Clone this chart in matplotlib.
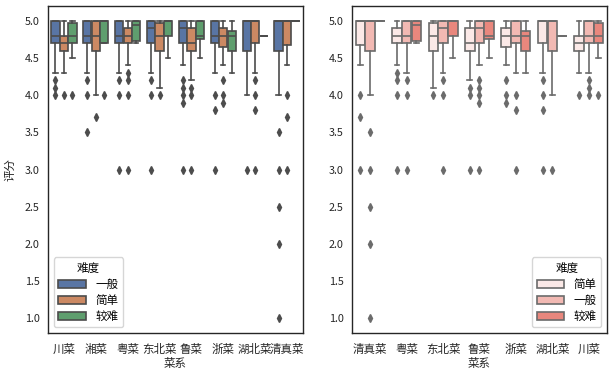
import numpy as np
import matplotlib
matplotlib.use("Agg")
import matplotlib.pyplot as plt
from matplotlib.patches import Patch

# ── data: box statistics per cuisine (rows) and difficulty (cols) ────────────
CATEGORIES = ["川菜", "湘菜", "粤菜", "东北菜", "鲁菜", "浙菜", "湖北菜", "清真菜"]
LEVELS     = ["一般", "简单", "较难"]

WHIS_LO = [[4.3, 4.3, 4.5], [4.3, 4.0, 4.7], [4.3, 4.4, 4.7], [4.3, 4.1, 4.5],
           [4.4, 4.2, 4.5], [4.3, 4.4, 4.3], [4.0, 4.3, 4.8], [4.0, 4.4, 5.0]]
Q1      = [[4.7, 4.6, 4.7], [4.7, 4.6, 4.7], [4.7, 4.7, 4.725], [4.7, 4.6, 4.8],
           [4.7, 4.6, 4.75], [4.7, 4.65, 4.6], [4.6, 4.7, 4.8], [4.6, 4.67, 5.0]]
MED     = [[4.8, 4.7, 4.8], [4.8, 4.8, 5.0], [4.8, 4.8, 4.95], [4.9, 4.8, 5.0],
           [4.9, 4.7, 4.8], [4.8, 4.8, 4.8], [5.0, 5.0, 4.8], [5.0, 5.0, 5.0]]
Q3      = [[5.0, 4.8, 4.97], [5.0, 5.0, 5.0], [5.0, 4.9, 5.0], [5.0, 4.97, 5.0],
           [5.0, 4.9, 5.0], [5.0, 4.9, 4.87], [5.0, 5.0, 4.8], [5.0, 5.0, 5.0]]
WHIS_HI = [[5.0, 5.0, 5.0], [5.0, 5.0, 5.0], [5.0, 5.0, 5.0], [5.0, 5.0, 5.0],
           [5.0, 5.0, 5.0], [5.0, 5.0, 5.0], [5.0, 5.0, 4.8], [5.0, 5.0, 5.0]]
FLIERS  = [[[4.2, 4.1, 4.0], [4.0], [4.0]],
           [[4.2, 4.0, 3.5], [3.7], [4.0]],
           [[4.2, 4.0, 3.0], [4.3, 4.2, 4.0, 3.0], []],
           [[4.2, 4.0, 3.0], [4.0], []],
           [[4.2, 4.1, 4.0, 3.9, 3.0], [4.1, 4.0, 3.0], []],
           [[4.0, 3.8, 3.0], [4.2, 4.0, 3.9], []],
           [[3.0], [4.2, 4.0, 3.8, 3.0], []],
           [[3.5, 3.0, 2.5, 2.0, 1.0], [4.0, 3.7, 3.0], []]]

RIGHT_ORDER = ["清真菜", "粤菜", "东北菜", "鲁菜", "浙菜", "湖北菜", "川菜"]
RIGHT_HUES  = ["简单", "一般", "较难"]

LEFT_COLORS  = {"一般": "#5975A4", "简单": "#CC8963", "较难": "#5F9E6E"}
RIGHT_COLORS = {"简单": "#FBE9E7", "一般": "#F2B9B3", "较难": "#E9877D"}

plt.rcParams["font.family"] = ["Noto Sans CJK SC", "DejaVu Sans"]
plt.rcParams["axes.unicode_minus"] = False
_FS = 8.3
_LW = 1.2
_TXT = "#262626"


def draw_boxes(ax, cats, hues, colors, edge):
    n = len(hues)
    w = 0.8 / n
    for ci, cat in enumerate(cats):
        i = CATEGORIES.index(cat)
        for hi, hue in enumerate(hues):
            j = LEVELS.index(hue)
            st = dict(whislo=WHIS_LO[i][j], q1=Q1[i][j], med=MED[i][j],
                      q3=Q3[i][j], whishi=WHIS_HI[i][j],
                      fliers=np.array(FLIERS[i][j]))
            pos = ci + (hi - (n - 1) / 2) * w
            ax.bxp([st], positions=[pos], widths=w * 0.98, patch_artist=True,
                   manage_ticks=False,
                   boxprops=dict(facecolor=colors[hue], edgecolor=edge, linewidth=_LW),
                   medianprops=dict(color=edge, linewidth=_LW),
                   whiskerprops=dict(color=edge, linewidth=_LW),
                   capprops=dict(color=edge, linewidth=_LW),
                   flierprops=dict(marker="d", markerfacecolor=edge,
                                   markeredgecolor=edge, markersize=4))
    ax.set_xticks(range(len(cats)))
    ax.set_xticklabels(cats, fontsize=_FS, color=_TXT)
    ax.set_xlim(-0.5, len(cats) - 0.5)
    ax.set_ylim(0.8, 5.2)
    yt = np.arange(1.0, 5.01, 0.5)
    ax.set_yticks(yt)
    ax.set_yticklabels([f"{v:.1f}" for v in yt], fontsize=_FS - 0.5, color=_TXT)
    ax.tick_params(axis="x", length=0, pad=7)
    ax.tick_params(axis="y", length=0, pad=6)
    ax.set_xlabel("菜系", fontsize=_FS, color=_TXT, labelpad=1)
    for s in ax.spines.values():
        s.set_color(_TXT)
        s.set_linewidth(1.0)


def add_legend(ax, hues, colors, edge, loc):
    handles = [Patch(facecolor=colors[h], edgecolor=edge, linewidth=_LW, label=h)
               for h in hues]
    leg = ax.legend(handles=handles, title="难度", loc=loc, fontsize=_FS,
                    title_fontsize=_FS, frameon=True, handlelength=2.4,
                    borderpad=0.4, labelspacing=0.25)
    leg.get_frame().set_edgecolor("#cccccc")


fig, (ax_l, ax_r) = plt.subplots(1, 2, figsize=(6.13, 3.75), dpi=100)
fig.subplots_adjust(left=48 / 613, right=607 / 613, bottom=1 - 333 / 375,
                    top=1 - 6 / 375, wspace=0.192)

draw_boxes(ax_l, CATEGORIES, LEVELS, LEFT_COLORS, "#4c4c4c")
ax_l.set_ylabel("评分", fontsize=_FS, color=_TXT, labelpad=6)
add_legend(ax_l, LEVELS, LEFT_COLORS, "#4c4c4c", "lower left")

draw_boxes(ax_r, RIGHT_ORDER, RIGHT_HUES, RIGHT_COLORS, "#6b6b6b")
add_legend(ax_r, RIGHT_HUES, RIGHT_COLORS, "#6b6b6b", "lower right")

plt.savefig("out.png", dpi=100)
plt.close(fig)
